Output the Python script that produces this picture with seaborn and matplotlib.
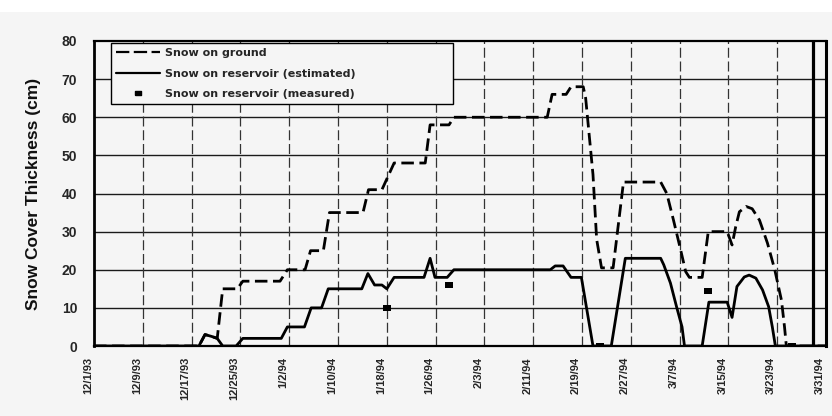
import numpy as np
import pandas as pd
import matplotlib
matplotlib.use("Agg")
import matplotlib.pyplot as plt
import matplotlib.transforms as mtransforms
from matplotlib.lines import Line2D
from matplotlib.patches import Rectangle
import seaborn as sns

# Day axis: day 0 = 12/1/93, ticks every 8 days
tick_days = list(range(0, 121, 8))
tick_labels = ["12/1/93", "12/9/93", "12/17/93", "12/25/93", "1/2/94", "1/10/94",
               "1/18/94", "1/26/94", "2/3/94", "2/11/94", "2/19/94", "2/27/94",
               "3/7/94", "3/15/94", "3/23/94", "3/31/94"]
y_ticks = [0, 10, 20, 30, 40, 50, 60, 70, 80]

# Snow on ground (cm)
ground_day = [0, 17.2, 18.2, 19.3, 20.2, 21.1, 23.5, 24.4, 30.5, 31.7, 34.6, 35.5,
              37.6, 38.6, 44.1, 45.0, 47.2, 49.2, 54.3, 55.1, 58.2, 59.0, 74.3, 75.1,
              77.4, 78.2, 80.2, 80.6, 81.8, 82.4, 83.2, 85.1, 86.8, 92.9, 93.9, 95.0,
              96.2, 97.0, 97.6, 99.7, 100.7, 103.8, 104.6, 105.2, 105.8, 106.9, 107.9,
              109.1, 110.4, 111.6, 112.7, 113.2, 113.5, 120]
ground_cm = [0, 0, 3, 2.5, 2, 15, 15, 17, 17, 20, 20, 25,
             25, 35, 35, 41, 41, 48, 48, 58, 58, 60, 60, 66,
             66, 68, 68, 65, 45, 28, 20.5, 20.5, 43, 43, 40, 33,
             25, 19.5, 18, 18, 30, 30, 26.5, 31.3, 35.2, 36.6, 36,
             33, 27, 20, 12, 5, 0, 0]

# Snow on reservoir, estimated (cm)
est_day = [0, 17.2, 18.2, 19.3, 20.2, 21.1, 23.3, 24.4, 30.7, 31.7, 34.5, 35.6,
           37.3, 38.4, 43.9, 44.9, 46.0, 47.2, 48.0, 49.2, 54.1, 55.1, 55.9, 57.9,
           59.0, 74.8, 75.6, 76.9, 78.2, 79.9, 81.8, 84.8, 87.1, 92.9, 93.4, 94.5,
           95.5, 96.4, 96.8, 99.7, 100.8, 103.8, 104.6, 105.4, 106.6, 107.4, 108.5,
           109.6, 110.6, 111.2, 111.7, 120]
est_cm = [0, 0, 3, 2.5, 2, 0, 0, 2, 2, 5, 5, 10,
          10, 15, 15, 19, 16, 16, 15, 18, 18, 23, 18, 18,
          20, 20, 21, 21, 18, 18, 0, 0, 23, 23, 21.3, 16.5,
          10.3, 5, 0, 0, 11.5, 11.5, 7.5, 15.6, 18.1, 18.6, 17.8,
          14.7, 10.3, 5, 0, 0]

# Snow on reservoir, measured (cm)
meas_day = [48.0, 58.2, 82.9, 100.7, 114.5]
meas_cm = [10, 16, 0, 14.5, 0]

end_line_day = 117.8

label_ground = "Snow on ground"
label_est = "Snow on reservoir (estimated)"
label_meas = "Snow on reservoir (measured)"

sns.set_theme(style="white")
plt.rcParams["font.family"] = ["Liberation Sans", "DejaVu Sans"]

lines_df = pd.concat([
    pd.DataFrame({"day": ground_day, "cm": ground_cm, "series": label_ground}),
    pd.DataFrame({"day": est_day, "cm": est_cm, "series": label_est}),
], ignore_index=True)
meas_df = pd.DataFrame({"day": meas_day, "cm": meas_cm})

bg = "#f5f5f5"
fig = plt.figure(figsize=(8.32, 4.16), dpi=100, facecolor=bg)
fig.patches.append(Rectangle((0, 1 - 12 / 416), 1, 12 / 416, transform=fig.transFigure,
                             facecolor="white", edgecolor="none", zorder=0))
ax = fig.add_axes([94 / 832, 70 / 416, 732 / 832, 305 / 416])
ax.set_facecolor(bg)

# grid: solid horizontals, dashed verticals
for y in y_ticks[1:-1]:
    ax.axhline(y, color="#1a1a1a", lw=1.0, zorder=1)
for d in tick_days[1:-1]:
    ax.axvline(d, color="#333333", lw=0.9, ls=(0, (8, 3)), zorder=1)

sns.lineplot(data=lines_df, x="day", y="cm", style="series",
             dashes={label_ground: (4.5, 2), label_est: ""},
             color="black", lw=2.0, estimator=None, sort=False,
             legend=False, ax=ax, zorder=3)

rect_marker = [(-1.5, -1), (1.5, -1), (1.5, 1), (-1.5, 1), (-1.5, -1)]
sns.scatterplot(data=meas_df, x="day", y="cm", marker=rect_marker, s=40,
                color="black", edgecolor="black", linewidth=0, legend=False,
                ax=ax, zorder=4)

ax.axvline(end_line_day, color="black", lw=2.3, zorder=3)

ax.set_xlim(0, 120)
ax.set_ylim(0, 80)
ax.set_xticks(tick_days)
ax.set_xticklabels(tick_labels, rotation=90, fontsize=8, fontweight="bold",
                   va="top", ha="center")
ax.set_yticks(y_ticks)
ax.set_yticklabels([str(v) for v in y_ticks], fontsize=10, fontweight="bold")
ax.tick_params(axis="both", direction="out", length=3, width=1, color="black")
ax.tick_params(axis="x", pad=5)
ax.tick_params(axis="y", pad=9)
ax.set_xlabel("")
ax.set_ylabel("Snow Cover Thickness (cm)", fontsize=12.5, fontweight="bold",
              labelpad=15, color="#111111")

shift = mtransforms.ScaledTranslation(-6 / 100, 0, fig.dpi_scale_trans)
for lbl in ax.get_xticklabels():
    lbl.set_transform(lbl.get_transform() + shift)

for side, lw in [("left", 2.0), ("right", 2.2), ("top", 1.6), ("bottom", 1.6)]:
    ax.spines[side].set_visible(True)
    ax.spines[side].set_color("black")
    ax.spines[side].set_linewidth(lw)

handles = [
    Line2D([], [], color="black", lw=1.6, ls=(0, (6, 2))),
    Line2D([], [], color="black", lw=1.6),
    Line2D([], [], color="black", lw=0, marker=rect_marker, markersize=5),
]
leg = ax.legend(handles, [label_ground, label_est, label_meas],
                loc="upper left", bbox_to_anchor=(0.023, 0.77, 0.467, 0.223),
                mode="expand", borderaxespad=0, fancybox=False, framealpha=1,
                facecolor=bg, edgecolor="black", handlelength=4, handletextpad=0.4,
                labelspacing=0.95, borderpad=0.45,
                prop={"family": "DejaVu Sans", "weight": "bold", "size": 8})
leg.get_frame().set_linewidth(1.0)
leg.set_zorder(5)

fig.savefig("out.png", dpi=100, facecolor=fig.get_facecolor())
